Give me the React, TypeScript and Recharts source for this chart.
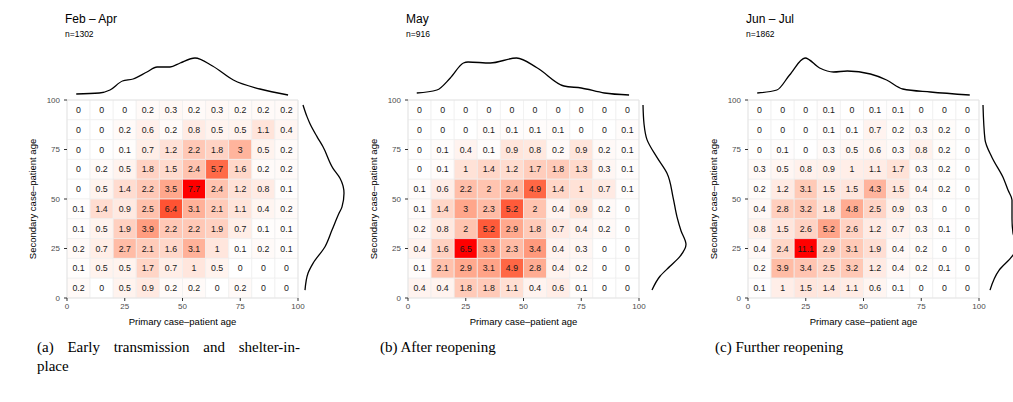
import React from 'react';
import { ComposedChart, LineChart, Line, XAxis, YAxis, ReferenceArea } from 'recharts';

// ---------- data ----------
const binStarts = [0, 10, 20, 30, 40, 50, 60, 70, 80, 90];
const axisTicks = [0, 25, 50, 75, 100];

// rows listed from the top (secondary age 90-100) down to the bottom (0-10)
const rowsA = [
  [0, 0, 0, 0.2, 0.3, 0.2, 0.3, 0.2, 0.2, 0.2],
  [0, 0, 0.2, 0.6, 0.2, 0.8, 0.5, 0.5, 1.1, 0.4],
  [0, 0, 0.1, 0.7, 1.2, 2.2, 1.8, 3, 0.5, 0.2],
  [0, 0.2, 0.5, 1.8, 1.5, 2.4, 5.7, 1.6, 0.2, 0.2],
  [0, 0.5, 1.4, 2.2, 3.5, 7.7, 2.4, 1.2, 0.8, 0.1],
  [0.1, 1.4, 0.9, 2.5, 6.4, 3.1, 2.1, 1.1, 0.4, 0.2],
  [0.1, 0.5, 1.9, 3.9, 2.2, 2.2, 1.9, 0.7, 0.1, 0.1],
  [0.2, 0.7, 2.7, 2.1, 1.6, 3.1, 1, 0.1, 0.2, 0.1],
  [0.1, 0.5, 0.5, 1.7, 0.7, 1, 0.5, 0, 0, 0],
  [0.2, 0, 0.5, 0.9, 0.2, 0.2, 0, 0.2, 0, 0],
];
const rowsB = [
  [0, 0, 0, 0, 0, 0, 0, 0, 0, 0],
  [0, 0, 0, 0.1, 0.1, 0.1, 0.1, 0, 0, 0.1],
  [0, 0.1, 0.4, 0.1, 0.9, 0.8, 0.2, 0.9, 0.2, 0.1],
  [0, 0.1, 1, 1.4, 1.2, 1.7, 1.8, 1.3, 0.3, 0.1],
  [0.1, 0.6, 2.2, 2, 2.4, 4.9, 1.4, 1, 0.7, 0.1],
  [0.1, 1.4, 3, 2.3, 5.2, 2, 0.4, 0.9, 0.2, 0],
  [0.2, 0.8, 2, 5.2, 2.9, 1.8, 0.7, 0.4, 0.2, 0],
  [0.4, 1.6, 6.5, 3.3, 2.3, 3.4, 0.4, 0.3, 0, 0],
  [0.1, 2.1, 2.9, 3.1, 4.9, 2.8, 0.4, 0.2, 0, 0],
  [0.4, 0.4, 1.8, 1.8, 1.1, 0.4, 0.6, 0.1, 0, 0],
];
const rowsC = [
  [0, 0, 0, 0.1, 0, 0.1, 0.1, 0, 0, 0],
  [0, 0, 0, 0.1, 0.1, 0.7, 0.2, 0.3, 0.2, 0],
  [0, 0.1, 0, 0.3, 0.5, 0.6, 0.3, 0.8, 0.2, 0],
  [0.3, 0.5, 0.8, 0.9, 1, 1.1, 1.7, 0.3, 0.2, 0],
  [0.2, 1.2, 3.1, 1.5, 1.5, 4.3, 1.5, 0.4, 0.2, 0],
  [0.4, 2.8, 3.2, 1.8, 4.8, 2.5, 0.9, 0.3, 0, 0],
  [0.8, 1.5, 2.6, 5.2, 2.6, 1.2, 0.7, 0.3, 0.1, 0],
  [0.4, 2.4, 11.1, 2.9, 3.1, 1.9, 0.4, 0.2, 0, 0],
  [0.2, 3.9, 3.4, 2.5, 3.2, 1.2, 0.4, 0.2, 0.1, 0],
  [0.1, 1, 1.5, 1.4, 1.1, 0.6, 0.1, 0, 0, 0],
];

// marginal densities (primary age on top, secondary age on the right)
const topAgeA = [4, 14, 18.6, 24, 28.6, 34.6, 39, 44.6, 49, 55.4, 63, 72, 83.5, 95.7];
const topDensA = [3, 4, 7, 16, 18, 25, 30, 30, 34, 39, 31, 17, 8, 2];
const rightAgeA = [4, 12.5, 17.5, 25.9, 34.3, 42.8, 46, 52.9, 60.5, 65.5, 76.4, 81.5, 88, 91.6, 97.5];
const rightDensA = [4, 7, 12, 24, 31, 38, 41, 43, 39, 32, 22, 16, 9, 6, 2];

const topAgeB = [3.8, 12.5, 18.3, 24, 26, 35.6, 47, 56, 67.5, 75, 85, 95.7];
const topDensB = [4, 7, 19, 34, 35, 34, 39, 29, 11, 9, 4, 2];
const rightAgeB = [4, 11, 16, 21, 27, 34, 41, 51, 63, 71, 80, 88, 97.5];
const rightDensB = [10, 18, 28, 38, 44, 39, 35, 31, 25, 15, 5, 2, 1];

const topAgeC = [4, 12.5, 18, 24.7, 31, 37, 43, 53, 60, 67, 79, 96];
const topDensC = [4, 7, 22, 39, 29, 25, 26, 23, 17, 8, 5, 2];
const rightAgeC = [4, 14, 21, 27, 32.7, 40, 49.5, 54.5, 61, 71, 80, 97.5];
const rightDensC = [8, 17, 30, 36, 31, 30, 30, 26, 21, 10, 3, 1];

const titles = ['Feb – Apr', 'May', 'Jun – Jul'];
const counts = ['n=1302', 'n=916', 'n=1862'];

// ---------- colour (CIELAB ramp white -> red, like ggplot) ----------
const toLin = (c: number) => { c /= 255; return c <= 0.04045 ? c / 12.92 : Math.pow((c + 0.055) / 1.055, 2.4); };
const fromLin = (c: number) => {
  const v = c <= 0.0031308 ? 12.92 * c : 1.055 * Math.pow(c, 1 / 2.4) - 0.055;
  return Math.round(Math.max(0, Math.min(1, v)) * 255);
};
const Xn = 0.95047, Yn = 1, Zn = 1.08883;
const f = (t: number) => (t > 0.008856 ? Math.cbrt(t) : 7.787 * t + 16 / 116);
const finv = (t: number) => (t * t * t > 0.008856 ? t * t * t : (t - 16 / 116) / 7.787);
function rgbToLab(r: number, g: number, b: number) {
  const R = toLin(r), G = toLin(g), B = toLin(b);
  const X = 0.4124 * R + 0.3576 * G + 0.1805 * B;
  const Y = 0.2126 * R + 0.7152 * G + 0.0722 * B;
  const Z = 0.0193 * R + 0.1192 * G + 0.9505 * B;
  const fx = f(X / Xn), fy = f(Y / Yn), fz = f(Z / Zn);
  return [116 * fy - 16, 500 * (fx - fy), 200 * (fy - fz)];
}
function labToHex(L: number, a: number, bb: number) {
  const fy = (L + 16) / 116, fx = fy + a / 500, fz = fy - bb / 200;
  const X = Xn * finv(fx), Y = Yn * finv(fy), Z = Zn * finv(fz);
  const R = 3.2406 * X - 1.5372 * Y - 0.4986 * Z;
  const G = -0.9689 * X + 1.8758 * Y + 0.0415 * Z;
  const B = 0.0557 * X - 0.204 * Y + 1.057 * Z;
  const h = (v: number) => fromLin(v).toString(16).padStart(2, '0');
  return '#' + h(R) + h(G) + h(B);
}
const LOW = rgbToLab(255, 255, 255);
const HIGH = rgbToLab(255, 0, 0);
function ramp(t: number) {
  return labToHex(
    LOW[0] + (HIGH[0] - LOW[0]) * t,
    LOW[1] + (HIGH[1] - LOW[1]) * t,
    LOW[2] + (HIGH[2] - LOW[2]) * t,
  );
}

// ---------- layout ----------
const panels = [
  { rows: rowsA, topAge: topAgeA, topDens: topDensA, rightAge: rightAgeA, rightDens: rightDensA, off: 0 },
  { rows: rowsB, topAge: topAgeB, topDens: topDensB, rightAge: rightAgeB, rightDens: rightDensB, off: 341 },
  { rows: rowsC, topAge: topAgeC, topDens: topDensC, rightAge: rightAgeC, rightDens: rightDensC, off: 681 },
];

const SANS = '"Liberation Sans", Arial, Helvetica, sans-serif';
const PLOT_L = 67, PLOT_T = 100, PLOT_W = 231, PLOT_H = 198;

function Heatmap({ rows }: { rows: number[][] }) {
  const max = Math.max(...rows.flat());
  const tiles: React.ReactNode[] = [];
  rows.forEach((row, ri) => {
    const y0 = binStarts[binStarts.length - 1 - ri];
    row.forEach((v, ci) => {
      const x0 = binStarts[ci];
      tiles.push(
        <ReferenceArea
          key={`${ri}-${ci}`}
          x1={x0}
          x2={x0 + 10}
          y1={y0}
          y2={y0 + 10}
          fill={ramp(v / max)}
          fillOpacity={1}
          stroke="#efefef"
          strokeWidth={0.7}
          ifOverflow="visible"
          label={{ value: String(v), position: 'center', fontSize: 8.8, fill: '#1a1a1a', fontFamily: SANS }}
        />,
      );
    });
  });
  return (
    <ComposedChart
      width={340}
      height={335}
      margin={{ top: PLOT_T, right: 340 - PLOT_L - PLOT_W, bottom: 335 - PLOT_T - PLOT_H - 20, left: 7 }}
      style={{ fontFamily: SANS }}
    >
      <XAxis
        type="number"
        dataKey="x"
        domain={[0, 100]}
        ticks={axisTicks}
        allowDataOverflow
        height={20}
        axisLine={false}
        tickLine={{ stroke: '#333333' }}
        tickSize={3}
        tickMargin={2}
        tick={{ fontSize: 8, fill: '#4d4d4d', fontFamily: SANS }}
        interval={0}
      />
      <YAxis
        type="number"
        dataKey="y"
        domain={[0, 100]}
        ticks={axisTicks}
        allowDataOverflow
        width={PLOT_L - 7}
        axisLine={false}
        tickLine={{ stroke: '#333333' }}
        tickSize={3}
        tickMargin={4}
        tick={{ fontSize: 8, fill: '#4d4d4d', fontFamily: SANS }}
        interval={0}
      />
      {tiles}
      <ReferenceArea x1={0} x2={100} y1={0} y2={100} fill="none" stroke="#e4e4e4" strokeWidth={1} ifOverflow="visible" />
    </ComposedChart>
  );
}

function TopDensity({ ages, dens }: { ages: number[]; dens: number[] }) {
  const data = ages.map((a, i) => ({ age: a, d: dens[i] }));
  return (
    <LineChart width={PLOT_W} height={42} data={data} margin={{ top: 0, right: 0, bottom: 0, left: 0 }}>
      <XAxis type="number" dataKey="age" domain={[0, 100]} hide />
      <YAxis type="number" domain={[0, 42]} hide />
      <Line type="monotone" dataKey="d" stroke="#000" strokeWidth={1.3} dot={false} isAnimationActive={false} />
    </LineChart>
  );
}

function RightDensity({ ages, dens }: { ages: number[]; dens: number[] }) {
  const data = ages.map((a, i) => ({ age: a, d: dens[i] }));
  return (
    <LineChart layout="vertical" width={50} height={PLOT_H} data={data} margin={{ top: 0, right: 0, bottom: 0, left: 0 }}>
      <XAxis type="number" domain={[0, 50]} hide />
      <YAxis type="number" dataKey="age" domain={[0, 100]} reversed hide />
      <Line type="monotone" dataKey="d" stroke="#000" strokeWidth={1.3} dot={false} isAnimationActive={false} />
    </LineChart>
  );
}

const SERIF = '"Liberation Serif", "Times New Roman", serif';
const capStyle: React.CSSProperties = { position: 'absolute', top: 338, fontFamily: SERIF, fontSize: 15, lineHeight: '19px', whiteSpace: 'nowrap', color: '#000' };

export default function App() {
  return (
    <div style={{ position: 'absolute', left: 0, top: 0, width: 1013, height: 402, overflow: 'hidden', background: '#fff' }}>
      {panels.map((p, i) => (
        <React.Fragment key={i}>
          <div style={{ position: 'absolute', left: p.off, top: 0 }}>
            <Heatmap rows={p.rows} />
          </div>
          <div style={{ position: 'absolute', left: p.off + PLOT_L, top: 55 }}>
            <TopDensity ages={p.topAge} dens={p.topDens} />
          </div>
          <div style={{ position: 'absolute', left: p.off + 301, top: PLOT_T }}>
            <RightDensity ages={p.rightAge} dens={p.rightDens} />
          </div>
        </React.Fragment>
      ))}
      <svg width={1013} height={402} style={{ position: 'absolute', left: 0, top: 0, pointerEvents: 'none' }}>
        {panels.map((p, i) => (
          <g key={i} fontFamily={SANS}>
            <text x={p.off + 65} y={23} fontSize={12} fill="#000">{titles[i]}</text>
            <text x={p.off + 65} y={37} fontSize={8.5} fill="#000">{counts[i]}</text>
            <text x={p.off + PLOT_L + PLOT_W / 2} y={325} fontSize={9.5} fill="#000" textAnchor="middle">
              Primary case–patient age
            </text>
            <text
              x={p.off + 36}
              y={PLOT_T + PLOT_H / 2}
              fontSize={9.5}
              fill="#000"
              textAnchor="middle"
              transform={`rotate(-90 ${p.off + 36} ${PLOT_T + PLOT_H / 2})`}
            >
              Secondary case–patient age
            </text>
          </g>
        ))}
      </svg>
      <div style={{ ...capStyle, left: 37, width: 263, textAlign: 'justify', textAlignLast: 'justify' }}>
        (a) Early transmission and shelter-in-
      </div>
      <div style={{ ...capStyle, left: 37, top: 357 }}>place</div>
      <div style={{ ...capStyle, left: 380 }}>(b) After reopening</div>
      <div style={{ ...capStyle, left: 715 }}>(c) Further reopening</div>
    </div>
  );
}
